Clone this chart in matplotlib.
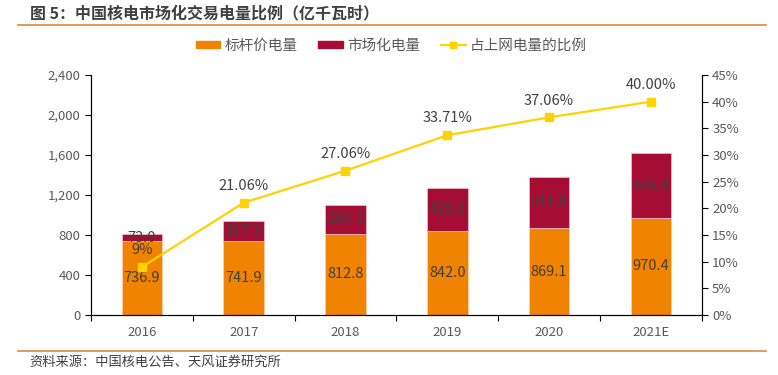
import matplotlib
matplotlib.use("Agg")
import matplotlib.pyplot as plt
from matplotlib.lines import Line2D
from matplotlib.patches import Patch
import numpy as np

plt.rcParams['font.family'] = ['Noto Sans CJK SC', 'DejaVu Sans']

categories = ["2016", "2017", "2018", "2019", "2020", "2021E"]
benchmark = [736.9, 741.9, 812.8, 842.0, 869.1, 970.4]
market = [73.0, 197.9, 286.3, 428.2, 511.8, 646.9]
ratio = [9.0, 21.06, 27.06, 33.71, 37.06, 40.00]
ratio_labels = ["9%", "21.06%", "27.06%", "33.71%", "37.06%", "40.00%"]
left_ticks = [0, 400, 800, 1200, 1600, 2000, 2400]
right_ticks = [0, 5, 10, 15, 20, 25, 30, 35, 40, 45]

c_orange = "#F08300"
c_red = "#A50D35"
c_line = "#FFD200"
c_text = "#595959"

fig = plt.figure(figsize=(7.78, 3.75), dpi=100)
ax = fig.add_axes([0.117, 0.16, 0.785, 0.64])
ax2 = ax.twinx()

x = np.arange(len(categories))
w = 0.4
ax.bar(x, benchmark, w, color=c_orange, edgecolor="#FAD3B0", linewidth=0.5, zorder=2)
ax.bar(x, market, w, bottom=benchmark, color=c_red, edgecolor="#F2C2CC", linewidth=0.5, zorder=2)

for i in range(len(x)):
    ax.text(x[i], benchmark[i] / 2, f"{benchmark[i]:.1f}", ha="center", va="center",
            fontsize=10.5, color="#404040", zorder=5)
    ax.text(x[i], benchmark[i] + market[i] / 2, f"{market[i]:.1f}", ha="center", va="center",
            fontsize=10.5, color="#404040", zorder=5)

ax.set_xlim(-0.5, len(x) - 0.5)
ax.set_ylim(0, 2400)
ax.set_yticks(left_ticks)
ax.set_yticklabels([f"{v:,}" for v in left_ticks])
ax.set_xticks(x)
ax.set_xticklabels(categories)
ax.set_xticks(np.arange(-0.5, len(x), 1.0), minor=True)
ax.tick_params(axis="x", which="major", length=0, pad=8, labelsize=9.5, labelcolor=c_text)
ax.tick_params(axis="x", which="minor", length=4, direction="out", width=0.8)
ax.tick_params(axis="y", length=4, direction="out", width=0.8, labelsize=9.5, labelcolor=c_text)

ax2.plot(x, ratio, color=c_line, linewidth=1.6, marker="s", markersize=6, zorder=4)
ax2.set_ylim(0, 45)
ax2.set_yticks(right_ticks)
ax2.set_yticklabels([f"{v}%" for v in right_ticks])
ax2.tick_params(axis="y", length=4, direction="out", width=0.8, labelsize=9.5, labelcolor=c_text)
for i in range(len(x)):
    ax2.annotate(ratio_labels[i], (x[i], ratio[i]), xytext=(0, 7), textcoords="offset points",
                 ha="center", va="bottom", fontsize=10.5, color="#404040")

for a in (ax, ax2):
    a.spines["top"].set_visible(False)
    for s in ("left", "right", "bottom"):
        a.spines[s].set_color("black")
        a.spines[s].set_linewidth(0.8)
ax.set_zorder(1)
ax2.set_zorder(2)
ax.patch.set_visible(False)

handles = [Patch(facecolor=c_orange, edgecolor=c_orange),
           Patch(facecolor=c_red, edgecolor=c_red),
           Line2D([0], [0], color=c_line, marker="s", markersize=5, linewidth=1.6)]
labels = ["标杆价电量", "市场化电量", "占上网电量的比例"]
fig.legend(handles, labels, loc="center", bbox_to_anchor=(0.503, 0.878), ncol=3, frameon=False,
           fontsize=10.5, labelcolor=c_text, handlelength=1.7, handleheight=0.45,
           columnspacing=1.4, handletextpad=0.3)

fig.text(0.038, 0.965, "图 5：中国核电市场化交易电量比例（亿千瓦时）", ha="left", va="center",
         fontsize=11.5, fontweight="bold", color="#404040")
fig.add_artist(Line2D([0.023, 0.985], [0.933, 0.933], color="#E0863A", linewidth=1.2))
fig.add_artist(Line2D([0.023, 0.985], [0.064, 0.064], color="#E0863A", linewidth=1.2))
fig.text(0.038, 0.033, "资料来源：中国核电公告、天风证券研究所", ha="left", va="center",
         fontsize=9.5, color="#404040")

fig.savefig("out.png", dpi=100)
